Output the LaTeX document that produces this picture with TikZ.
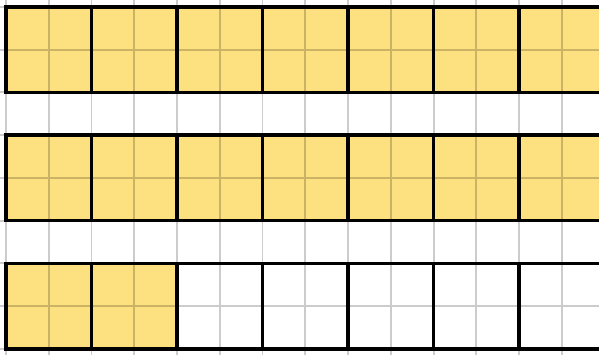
\documentclass[tikz,border=0pt]{standalone}
\usepackage{tikz}
\definecolor{barfill}{HTML}{FDE07F}
\begin{document}
\begin{tikzpicture}[
  gridline/.style={draw=black, opacity=0.2, line width=1.3pt},
  piece/.style={draw=black, line width=2.3pt},
  filled/.style={piece, fill=barfill}]
  \useasboundingbox (-0.14,-0.12) rectangle (13.87,8.16);
  % three bars of 2x2 squares
  \foreach \i in {0,...,6} {
    \draw[filled] (2*\i,6) rectangle +(2,2);
    \draw[filled] (2*\i,3) rectangle +(2,2);
  }
  \foreach \i in {0,1}
    \draw[filled] (2*\i,0) rectangle +(2,2);
  \foreach \i in {2,...,6}
    \draw[piece] (2*\i,0) rectangle +(2,2);
  % squared paper on top
  \draw[gridline] (-1,-1) grid (15,9);
\end{tikzpicture}
\end{document}
